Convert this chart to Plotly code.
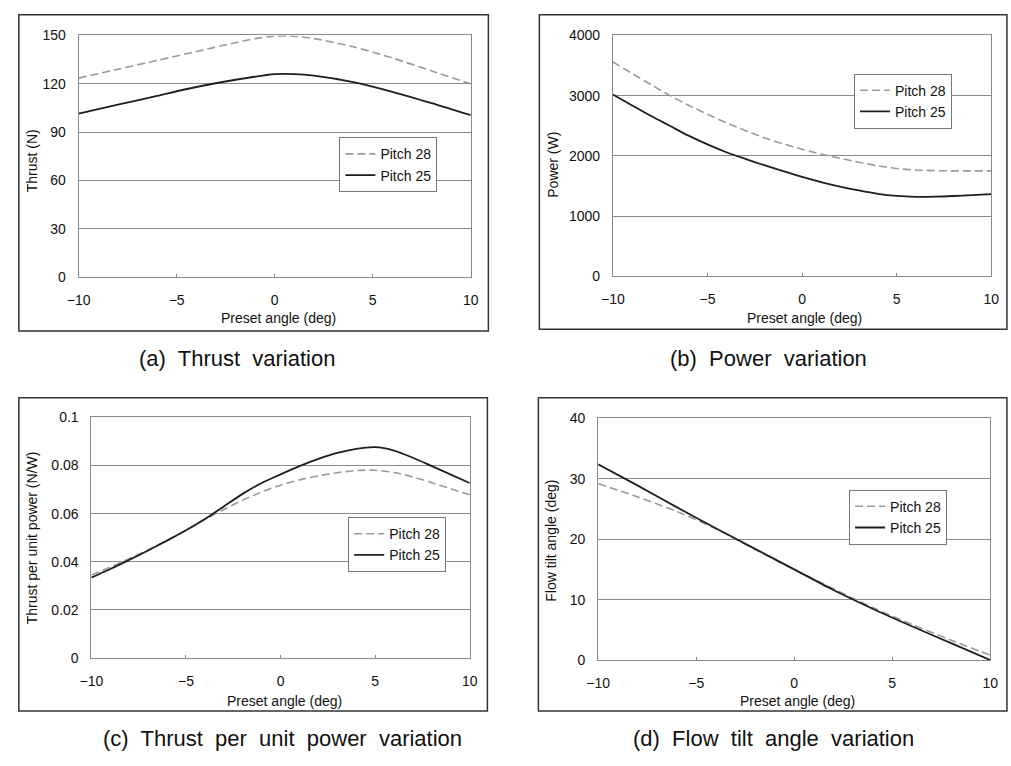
import plotly.graph_objects as go

W, H = 1011, 766

# ---------------- data ----------------
# (a) Thrust (N)
a_x28 = [-10, -8, -6, -4, -2, -1, 0, 1, 2, 4, 6, 8, 10]
a_y28 = [123.5, 129, 134.5, 140, 145.5, 148, 149.5, 149.5, 148, 143, 136, 128, 120]
a_x25 = [-10, -8, -6, -4, -2, 0, 1, 2, 4, 6, 8, 10]
a_y25 = [101.5, 107, 112.5, 118, 122.5, 126, 126, 125, 121, 115, 108, 100.5]

# (b) Power (W)
b_x28 = [-10, -9, -8, -7, -6, -5, -4, -3, -2, -1, 0, 1, 2, 3, 4, 5, 6, 7, 8, 9, 10]
b_y28 = [3560, 3370, 3185, 3005, 2840, 2690, 2550, 2420, 2300, 2200, 2110,
         2030, 1960, 1895, 1835, 1790, 1765, 1755, 1750, 1750, 1750]
b_x25 = [-10, -9, -8, -7, -6, -5, -4, -3, -2, -1, 0, 1, 2, 3, 4, 5, 6, 7, 8, 9, 10]
b_y25 = [3020, 2840, 2665, 2500, 2335, 2190, 2060, 1950, 1845, 1745, 1650,
         1565, 1490, 1425, 1370, 1335, 1320, 1322, 1333, 1348, 1365]

# (c) Thrust per unit power (N/W)
c_x28 = [-10, -9, -8, -7, -6, -5, -4, -3, -2, -1, 0, 1, 2, 3, 4, 5, 6, 7, 8, 9, 10]
c_y28 = [0.0345, 0.0378, 0.0413, 0.0450, 0.0489, 0.0531, 0.0575, 0.0617, 0.0656, 0.0690, 0.0718,
         0.0740, 0.0757, 0.0770, 0.0779, 0.0780, 0.0771, 0.0752, 0.0728, 0.0703, 0.0678]
c_x25 = [-10, -9, -8, -7, -6, -5, -4, -3, -2, -1, 0, 1, 2, 3, 4, 5, 6, 7, 8, 9, 10]
c_y25 = [0.0334, 0.0370, 0.0408, 0.0447, 0.0488, 0.0531, 0.0578, 0.0630, 0.0682, 0.0727, 0.0763,
         0.0797, 0.0827, 0.0852, 0.0869, 0.0876, 0.0862, 0.0832, 0.0797, 0.0762, 0.0727]

# (d) Flow tilt angle (deg)
d_x28 = [-10, -8, -6, -4, -2, 0, 2, 4, 6, 8, 10]
d_y28 = [29.2, 27.0, 24.6, 21.7, 18.3, 15.0, 11.8, 8.7, 5.9, 3.3, 0.8]
d_x25 = [-10, -8, -6, -4, -2, 0, 2, 4, 6, 8, 10]
d_y25 = [32.4, 28.9, 25.3, 21.8, 18.4, 15.0, 11.6, 8.5, 5.6, 2.8, 0.0]

series_names = ["Pitch 28", "Pitch 25"]
x_title = "Preset angle (deg)"
y_titles = ["Thrust (N)", "Power (W)", "Thrust per unit power (N/W)", "Flow tilt angle (deg)"]
captions = ["(a)  Thrust  variation", "(b)  Power  variation",
            "(c)  Thrust  per  unit  power  variation", "(d)  Flow  tilt  angle  variation"]
y_ranges = [(0, 150, 30), (0, 4000, 1000), (0, 0.1, 0.02), (0, 40, 10)]

# ---------------- layout helpers (pixel -> paper) ----------------
def px(x):
    return x / W

def py(y):
    return 1 - y / H

# plot areas in pixels: (left, right, top, bottom)
areas = [(68, 468, 28, 275), (613, 999, 28, 274), (81, 467, 418, 664), (598, 998, 419, 666)]
frames = [(7, 486, 7, 330), (538, 1015, 7, 328), (7, 485, 398, 718), (537, 1015, 398, 718)]
legend_pos = [(334, 132), (859, 67), (343, 520), (854, 492)]
ytitle_pos = [(20, 156), (552, 160), (20, 541), (550, 544)]
xtitle_pos = [(272, 317), (808, 317), (278, 708), (801, 708)]
caption_pos = [(230, 358), (772, 358), (276, 746), (777, 746)]

FONT = "Liberation Sans, Arial, sans-serif"
DASH_COL = "#9a9a9a"
SOLID_COL = "#1e1e1e"
GRID_COL = "#8a8a8a"

data = [
    (a_x28, a_y28, a_x25, a_y25),
    (b_x28, b_y28, b_x25, b_y25),
    (c_x28, c_y28, c_x25, c_y25),
    (d_x28, d_y28, d_x25, d_y25),
]

fig = go.Figure()
layout = dict(
    width=W, height=H,
    margin=dict(l=0, r=0, t=0, b=0),
    paper_bgcolor="white", plot_bgcolor="white",
    font=dict(family=FONT, size=14, color="#111"),
    showlegend=True,
)
annotations = []
shapes = []

for i in range(4):
    n = "" if i == 0 else str(i + 1)
    xa, ya = "x" + n, "y" + n
    x28, y28, x25, y25 = data[i]
    leg = "legend" if i == 0 else "legend" + str(i + 1)
    fig.add_trace(go.Scatter(x=x28, y=y28, mode="lines", name=series_names[0],
                             line=dict(color=DASH_COL, width=1.6, dash="8px,4px", shape="spline", smoothing=0.8),
                             xaxis=xa, yaxis=ya, legend=leg))
    fig.add_trace(go.Scatter(x=x25, y=y25, mode="lines", name=series_names[1],
                             line=dict(color=SOLID_COL, width=1.8, shape="spline", smoothing=0.8),
                             xaxis=xa, yaxis=ya, legend=leg))
    l, r, t, b = areas[i]
    y0, y1, dy = y_ranges[i]
    layout["xaxis" + n] = dict(
        domain=[px(l), px(r)], anchor=ya, range=[-10, 10], dtick=5, tick0=-10,
        showgrid=False, zeroline=False, showline=True, mirror=True,
        linecolor=GRID_COL, linewidth=1, ticks="inside", ticklen=3, tickcolor=GRID_COL,
        ticklabelstandoff=10, tickfont=dict(size=14, color="#111"),
    )
    layout["yaxis" + n] = dict(
        domain=[py(b), py(t)], anchor=xa, range=[y0, y1], dtick=dy, tick0=0,
        showgrid=True, gridcolor=GRID_COL, gridwidth=1, zeroline=False,
        showline=True, mirror=True, linecolor=GRID_COL, linewidth=1,
        ticks="", ticklabelstandoff=9, tickfont=dict(size=14, color="#111"),
    )
    lx, ly = legend_pos[i]
    layout[leg] = dict(
        x=px(lx), y=py(ly), xref="paper", yref="paper", xanchor="left", yanchor="top",
        bgcolor="white", bordercolor="#777", borderwidth=1,
        font=dict(family=FONT, size=14, color="#111"),
        itemwidth=30, tracegroupgap=0,
    )
    # frame
    fl, fr, ft, fb = frames[i]
    shapes.append(dict(type="rect", xref="paper", yref="paper",
                       x0=px(fl), x1=px(fr), y0=py(fb), y1=py(ft),
                       line=dict(color="#333", width=1.5), layer="below"))
    # axis titles
    tx, ty = ytitle_pos[i]
    annotations.append(dict(text=y_titles[i], x=px(tx), y=py(ty), xref="paper", yref="paper",
                            showarrow=False, textangle=-90, xanchor="center", yanchor="middle",
                            font=dict(family=FONT, size=14, color="#111")))
    tx, ty = xtitle_pos[i]
    annotations.append(dict(text=x_title, x=px(tx), y=py(ty), xref="paper", yref="paper",
                            showarrow=False, xanchor="center", yanchor="middle",
                            font=dict(family=FONT, size=14, color="#111")))
    cx, cy = caption_pos[i]
    annotations.append(dict(text=captions[i], x=px(cx), y=py(cy), xref="paper", yref="paper",
                            showarrow=False, xanchor="center", yanchor="middle",
                            font=dict(family="Liberation Sans Narrow, Liberation Sans, Arial", size=22, color="#111")))

layout["annotations"] = annotations
layout["shapes"] = shapes
fig.update_layout(**layout)
fig.write_html("out.html", config={"displayModeBar": False},
               post_script="document.body.style.margin='0';")
